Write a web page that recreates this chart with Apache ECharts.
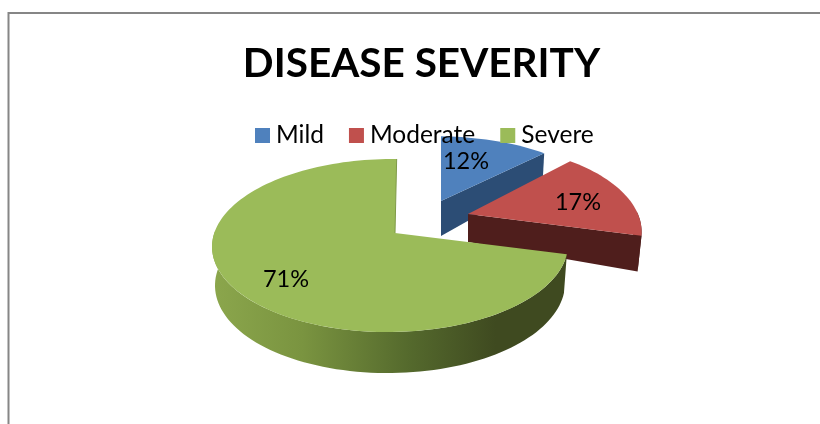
<!DOCTYPE html>
<html>
<head>
<meta charset="utf-8">
<style>html,body{margin:0;padding:0;background:#fff}#chart{width:820px;height:424px}</style>
<script src="https://cdn.jsdelivr.net/npm/echarts@6/dist/echarts.min.js"></script>
</head>
<body>
<div id="chart"></div>
<script>
// Disease severity shares, in percent
const chartTitle = 'DISEASE SEVERITY';
const categories = ['Mild', 'Moderate', 'Severe'];
const severityValues = [12, 17, 71];

const topColors = ['#4f81bd', '#c0504d', '#9bbb59'];
const cutColors = ['#2c4d75', '#4f1e1c', '#9bbb59'];

// Projection of each exploded wedge: apex position, scales and perspective terms
const wedgeLayout = [
  { x: 441, y: 201, s: 170, k: 74, p: 0.1445, q: -0.0327, lean: 0, d0: 35, d1: 13, inset: 2, labelAt: [466, 161] },
  { x: 468, y: 214, s: 175, k: 85, p: 0.209, q: -0.03, lean: 0, d0: 28, d1: 32, inset: 4, labelAt: [578, 202] },
  { x: 395, y: 233, s: 176, k: 84.7, p: 0.1445, q: -0.026, lean: -1.9, d0: 38, d1: 3, inset: 3, labelAt: [286, 279] }
];

const total = severityValues.reduce((a, b) => a + b, 0);

function project(w, deg, radius, lower) {
  const a = deg * Math.PI / 180;
  const u = Math.sin(a) * radius;
  const t = -Math.cos(a) * radius;
  const den = 1 - w.p * t - w.q * u;
  let x = w.x + (w.s * u + w.lean * t) / den;
  let y = w.y + w.k * t / den;
  if (lower) {
    x -= w.inset * u;
    y += w.d0 + w.d1 * t;
  }
  return [x, y];
}

function arc(w, from, to, lower) {
  const pts = [];
  const steps = Math.max(2, Math.ceil(Math.abs(to - from) / 2));
  for (let i = 0; i <= steps; i++) {
    pts.push(project(w, from + (to - from) * i / steps, 1, lower));
  }
  return pts;
}

function wedgeRenderer(index) {
  const before = severityValues.slice(0, index).reduce((a, b) => a + b, 0);
  return function (params, api) {
    const w = wedgeLayout[index];
    const value = api.value(0);
    const start = before / total * 360;
    const end = start + value / total * 360;
    const children = [];
    const apexTop = project(w, 0, 0, false);
    const apexLow = project(w, 0, 0, true);

    // Outer rim: only the part of the arc facing the viewer
    const rimFrom = Math.max(start, 88);
    const rimTo = Math.min(end, 272);
    if (rimTo > rimFrom) {
      const rimFill = index === 2
        ? { type: 'linear', x: 214, y: 0, x2: 566, y2: 0, global: true, colorStops: [
            { offset: 0, color: '#8ba64c' },
            { offset: 0.25, color: '#7a9440' },
            { offset: 0.55, color: '#556a2d' },
            { offset: 0.8, color: '#3f4a20' },
            { offset: 1, color: '#3f4a20' }
          ] }
        : cutColors[index];
      children.push({
        type: 'polygon',
        shape: { points: arc(w, rimFrom, rimTo, false).concat(arc(w, rimTo, rimFrom, true)) },
        style: { fill: rimFill }
      });
    }

    // Flat face left by the cut at the end of the wedge
    if (index < 2) {
      const endTop = project(w, end, 1, false);
      const endLow = project(w, end, 1, true);
      children.push({
        type: 'polygon',
        shape: { points: [apexTop, endTop, endLow, apexLow] },
        style: { fill: cutColors[index] }
      });
    }

    // Top surface
    children.push({
      type: 'polygon',
      shape: { points: [apexTop].concat(arc(w, start, end, false)) },
      style: { fill: topColors[index] }
    });

    // Thin inner edge along the vertical cut of the large wedge
    if (index === 2) {
      children.push({
        type: 'line',
        shape: { x1: apexTop[0], y1: apexTop[1], x2: project(w, 360, 1, false)[0], y2: project(w, 360, 1, false)[1] },
        style: { stroke: '#7f9a48', lineWidth: 1 }
      });
    }

    children.push({
      type: 'text',
      z2: 50,
      style: {
        text: value + '%',
        x: w.labelAt[0],
        y: w.labelAt[1],
        align: 'center',
        verticalAlign: 'middle',
        fill: '#000',
        font: '23.5px Lato'
      }
    });
    return { type: 'group', children };
  };
}

const chart = echarts.init(document.getElementById('chart'), null, { renderer: 'canvas' });
chart.setOption({
  animation: false,
  backgroundColor: '#fff',
  title: {
    text: chartTitle,
    left: 421.5,
    top: 43,
    padding: [0, 0, 0, 0],
    textAlign: 'center',
    textStyle: { fontFamily: 'Lato', fontWeight: 'bold', fontSize: 40.5, color: '#000' }
  },
  legend: {
    data: categories,
    left: 255,
    top: 123,
    padding: 0,
    itemWidth: 15,
    itemHeight: 15,
    itemGap: 25,
    icon: 'rect',
    textStyle: { fontFamily: 'Lato', fontSize: 24.5, color: '#000', padding: [0, 0, 0, 1] },
    z: 20
  },
  graphic: [{
    type: 'polyline',
    silent: true,
    shape: { points: [[8.5, 424], [8.5, 13], [820, 13]] },
    style: { stroke: '#868686', lineWidth: 2, fill: null }
  }],
  series: categories.map((name, i) => ({
    type: 'custom',
    name,
    coordinateSystem: 'none',
    clip: false,
    z: 2 + i,
    itemStyle: { color: topColors[i] },
    renderItem: wedgeRenderer(i),
    data: [[severityValues[i]]]
  }))
});
</script>
</body>
</html>
